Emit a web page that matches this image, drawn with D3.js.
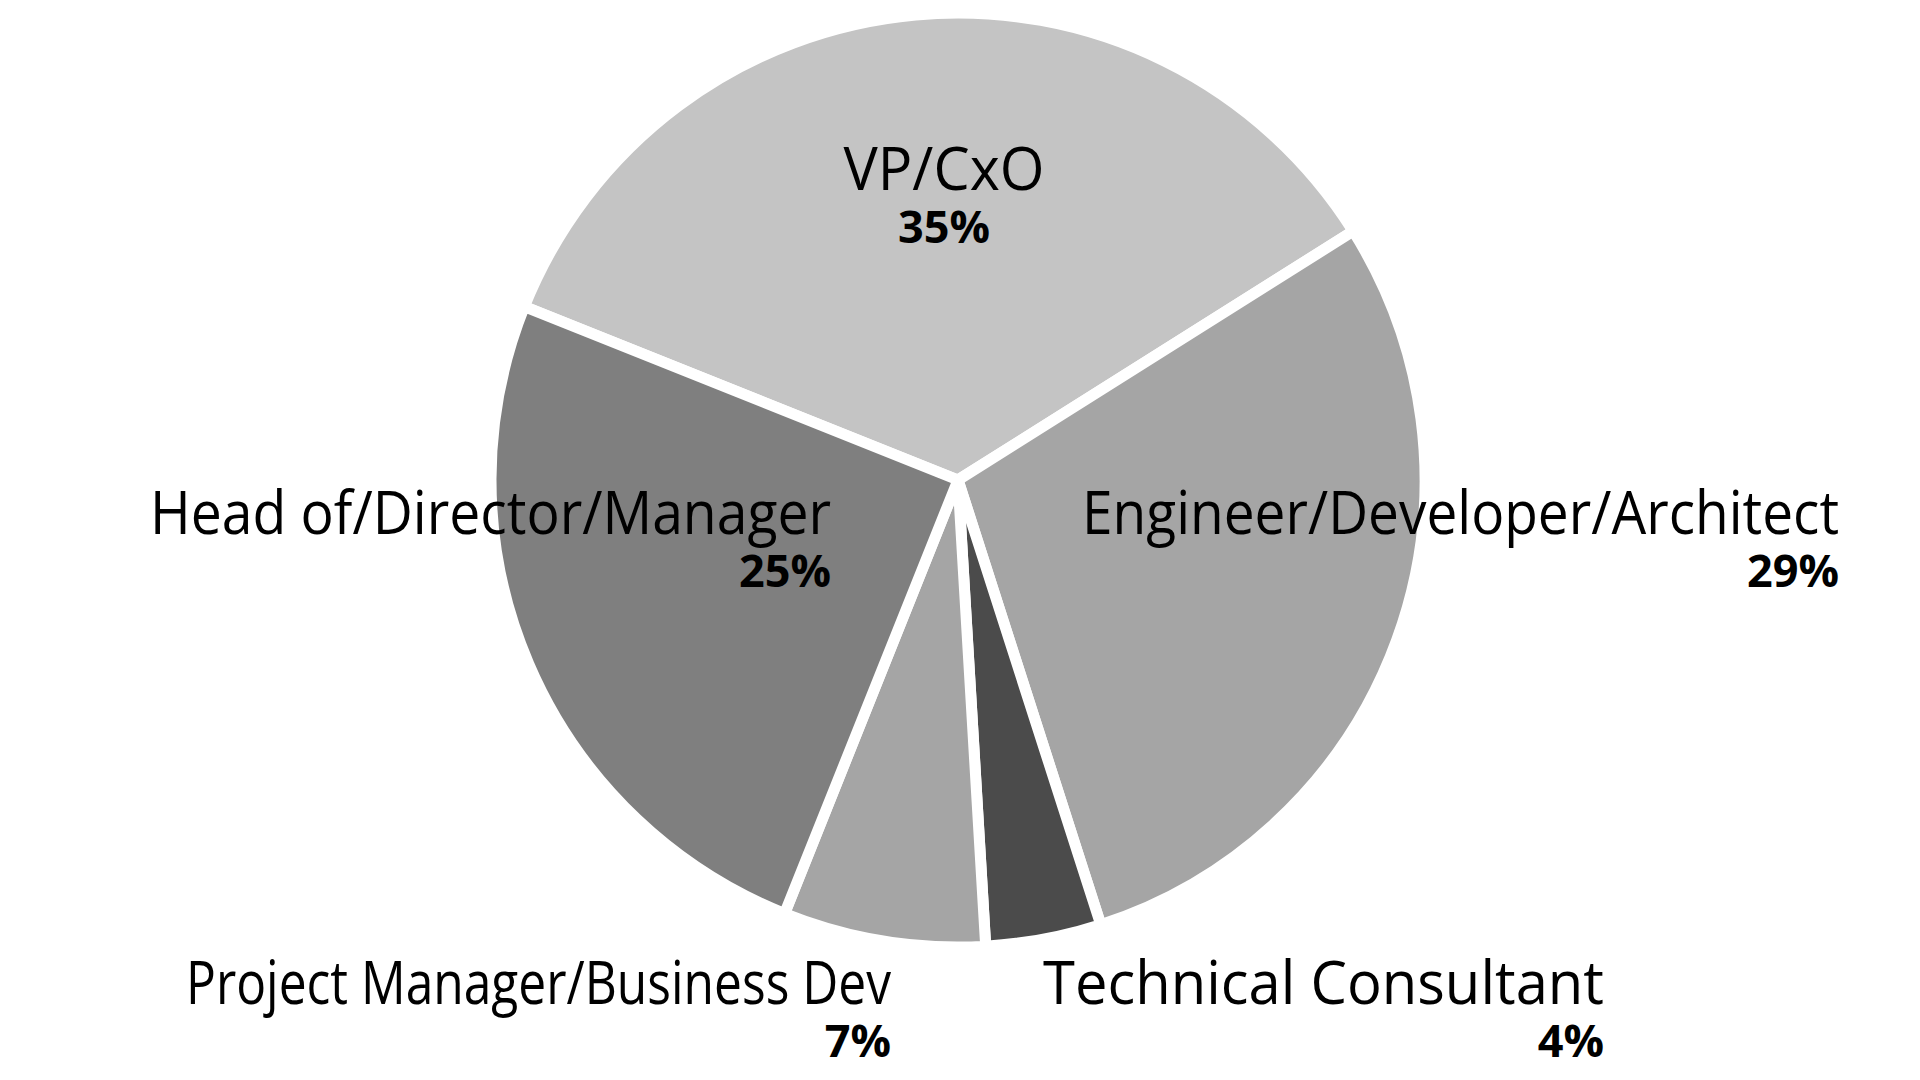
<!DOCTYPE html>
<html>
<head>
<meta charset="utf-8">
<script src="https://cdn.jsdelivr.net/npm/d3@7"></script>
<style>
  html, body { margin: 0; padding: 0; background: #ffffff; }
  svg { display: block; }
  .name { font-family: "Open Sans", sans-serif; font-size: 60px; fill: #000; }
  .pct { font-family: "Open Sans", sans-serif; font-size: 45px; font-weight: 700; fill: #000; }
</style>
</head>
<body>
<svg id="chart" width="1920" height="1080"></svg>
<script>
// Data
const categories = ["VP/CxO", "Engineer/Developer/Architect", "Technical Consultant", "Project Manager/Business Dev", "Head of/Director/Manager"];
const values = [35, 29, 4, 7, 25];
const percentLabels = ["35%", "29%", "4%", "7%", "25%"];
const colors = ["#c4c4c4", "#a5a5a5", "#4b4b4b", "#a5a5a5", "#7f7f7f"];

// Layout (label anchors relative to pie centre, in px; fitted label widths)
const labelLayout = [
  { dx: -14, dy: -290, anchor: "middle", w: 201 },
  { dx: 881, dy: 54, anchor: "end", w: 757 },
  { dx: 646, dy: 524, anchor: "end", w: 561 },
  { dx: -67, dy: 524, anchor: "end", w: 705 },
  { dx: -127, dy: 54, anchor: "end", w: 681 }
];

const cx = 958, cy = 480, R = 467;
const svg = d3.select("#chart");
const g = svg.append("g").attr("transform", `translate(${cx},${cy})`);

const startA = -68.2 * Math.PI / 180;
const pie = d3.pie().sort(null).value(d => d).startAngle(startA).endAngle(startA + 2 * Math.PI);
const arcs = pie(values);
const arc = d3.arc().innerRadius(0).outerRadius(R);

g.selectAll("path.slice").data(arcs).enter().append("path")
  .attr("class", "slice")
  .attr("d", arc)
  .attr("fill", (d, i) => colors[i])
  .attr("stroke", "#ffffff")
  .attr("stroke-width", 11)
  .attr("stroke-linejoin", "round");

const lab = g.selectAll("g.label").data(arcs).enter().append("g").attr("class", "label");
lab.append("text").attr("class", "name")
  .attr("x", (d, i) => labelLayout[i].dx)
  .attr("y", (d, i) => labelLayout[i].dy)
  .attr("text-anchor", (d, i) => labelLayout[i].anchor)
  .attr("textLength", (d, i) => labelLayout[i].w)
  .attr("lengthAdjust", "spacingAndGlyphs")
  .text((d, i) => categories[i]);
lab.append("text").attr("class", "pct")
  .attr("x", (d, i) => labelLayout[i].dx)
  .attr("y", (d, i) => labelLayout[i].dy + 53)
  .attr("text-anchor", (d, i) => labelLayout[i].anchor)
  .text((d, i) => percentLabels[i]);
</script>
</body>
</html>
